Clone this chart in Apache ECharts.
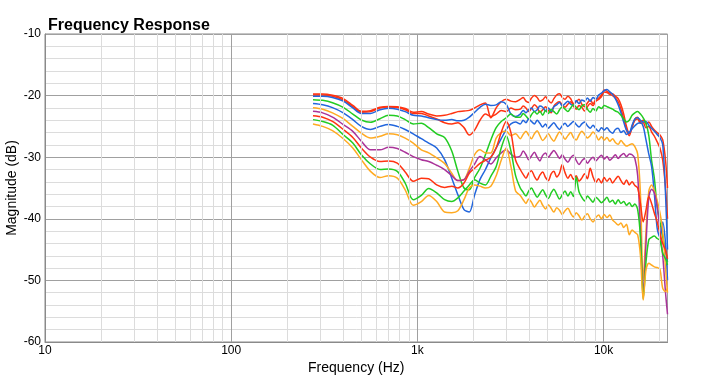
<!DOCTYPE html>
<html><head><meta charset="utf-8">
<script src="https://cdn.jsdelivr.net/npm/echarts@6/dist/echarts.min.js"></script>
<style>html,body{margin:0;padding:0;background:#fff}#c{width:702px;height:381px}</style>
</head><body><div id="c"></div>
<script>
// Frequencies (Hz)
const freqs = [
  275, 310, 350, 400, 450, 500, 560, 630, 700, 780,
  860, 950, 1050, 1150, 1270, 1400, 1530, 1650, 1780, 1900,
  2030, 2170, 2320, 2480, 2650, 2820, 3000, 3180, 3370,
  3570, 3700, 3830, 3960, 4100, 4250, 4400, 4550, 4710, 4880,
  5050, 5230, 5410, 5600, 5800, 6000, 6210, 6430, 6660, 6890,
  7130, 7380, 7640, 7910, 8190, 8480, 8780, 9090, 9410, 9740,
  10080, 10430, 10800, 11180, 11570, 11980, 12400, 12830, 13280, 13750,
  14230, 14730, 15250, 15780, 16330, 16900, 17500, 18110, 18750, 19400,
  20080, 20790, 21520, 22050
];
const red1 = [
  -19.74, -19.74, -19.96, -20.5, -21.6, -22.56, -22.45, -21.9, -21.75, -21.8,
  -22.1, -22.7, -22.6, -23.0, -23.3, -23.2, -22.9, -22.6, -22.5, -22.4,
  -22.0, -21.5, -21.2, -23.6, -22.0, -21.0, -20.6, -20.9, -21.0,
  -20.6, -20.3, -20.9, -21.1, -20.4, -20.0, -20.3, -20.9, -20.7, -20.2,
  -20.8, -21.2, -20.5, -19.9, -19.7, -20.3, -20.6, -20.1, -20.5, -21.3,
  -21.0, -20.6, -21.4, -21.8, -21.2, -20.7, -21.3, -20.6, -20.4, -19.9,
  -19.1, -19.3, -19.6, -19.7, -20.1, -20.5, -21.5, -23.0, -25.0, -26.2,
  -25.2, -23.8, -23.5, -24.2, -24.0, -24.6, -24.3, -25.0, -25.6, -26.0,
  -26.4, -27.2, -30.5, -35.0
];
const red2 = [
  -19.9, -19.9, -20.1, -20.7, -21.8, -22.7, -22.6, -22.0, -21.85, -21.95,
  -22.3, -22.9, -22.9, -23.3, -23.8, -24.4, -24.6, -24.4, -25.2, -26.4,
  -25.6, -24.0, -23.0, -23.4, -23.0, -22.4, -22.6, -22.0, -22.3,
  -22.2, -21.7, -22.0, -22.6, -22.1, -21.5, -21.9, -22.7, -22.3, -21.8,
  -22.4, -22.8, -21.7, -21.2, -21.0, -21.5, -21.9, -21.4, -21.0, -21.7,
  -22.2, -21.6, -21.9, -22.5, -21.8, -21.3, -21.6, -20.9, -20.6, -20.2,
  -19.4, -19.5, -19.8, -20.0, -20.4, -21.0, -22.2, -23.8, -25.6, -26.5,
  -25.0, -24.0, -23.8, -24.5, -24.4, -25.2, -25.0, -25.9, -26.6, -27.5,
  -28.5, -30.5, -35.0, -40.0
];
const blue1 = [
  -20.1, -20.1, -20.3, -20.9, -22.0, -22.9, -22.9, -22.3, -22.05, -22.2,
  -22.6, -23.2, -23.3, -23.6, -23.9, -24.0, -23.9, -24.1, -24.0, -23.5,
  -22.7, -21.9, -21.4, -21.6, -21.5, -21.0, -21.4, -23.0, -23.4,
  -23.0, -22.4, -22.8, -22.3, -22.0, -22.6, -22.3, -21.7, -21.9, -22.5,
  -22.0, -22.6, -21.8, -21.5, -21.1, -21.7, -21.3, -20.9, -21.4, -21.6,
  -20.8, -21.3, -20.7, -20.9, -20.4, -20.9, -20.3, -20.6, -19.9, -19.6,
  -19.2, -19.0, -19.4, -19.8, -20.5, -21.5, -22.8, -24.3, -25.6, -26.0,
  -24.8, -23.8, -23.6, -24.0, -24.3, -24.2, -24.8, -25.3, -25.8, -26.3,
  -26.8, -28.0, -36.0, -45.0
];
const green1 = [
  -20.66, -20.77, -21.15, -21.9, -23.0, -23.96, -24.34, -23.75, -23.2, -23.3,
  -23.9, -24.6, -24.5, -25.2, -26.2, -26.8, -29.0, -32.3, -35.0, -35.3,
  -33.3, -31.8, -29.6, -27.2, -25.2, -24.2, -23.6, -23.0, -23.5,
  -23.5, -22.9, -23.3, -23.8, -23.1, -22.6, -23.0, -22.5, -23.2, -22.4,
  -22.9, -22.2, -22.6, -23.0, -22.3, -21.8, -22.2, -22.6, -22.0, -21.5,
  -21.9, -22.3, -21.7, -21.5, -22.2, -22.7, -22.1, -22.5, -21.8, -22.1,
  -21.6, -21.8, -22.0, -22.2, -22.5, -22.7, -23.2, -23.8, -24.3, -24.0,
  -23.2, -22.8, -22.6, -23.0, -23.6, -24.5, -26.5, -30.5, -33.5, -38.0,
  -40.5, -43.0, -45.0, -47.0
];
const blue2 = [
  -21.3, -21.5, -21.96, -22.8, -23.9, -25.0, -25.5, -25.0, -24.7, -25.0,
  -25.5, -26.2, -27.0, -27.7, -28.5, -30.4, -33.4, -36.1, -38.5, -38.9,
  -36.1, -33.6, -32.0, -30.1, -28.5, -27.0, -25.5, -24.6, -24.3,
  -24.6, -24.0, -24.4, -23.8, -24.2, -24.6, -24.0, -24.5, -25.1, -24.6,
  -25.3, -24.8, -24.4, -25.0, -25.5, -24.9, -24.5, -25.0, -24.6, -24.2,
  -24.7, -25.1, -24.6, -24.3, -24.9, -25.3, -24.8, -25.4, -25.8, -25.2,
  -25.6, -25.2, -25.8, -26.1, -25.5, -25.3, -26.0, -25.7, -26.3, -26.0,
  -25.4, -24.9, -24.5, -24.4, -25.0, -27.2, -29.5, -31.5, -36.0, -41.5,
  -43.0, -40.5, -44.0, -50.0
];
const orange1 = [
  -21.96, -22.2, -22.8, -23.75, -25.0, -26.1, -26.9, -26.6, -26.2, -26.35,
  -26.9, -27.7, -28.8, -29.3, -30.1, -31.0, -32.6, -33.8, -33.65, -31.8,
  -29.6, -28.8, -29.3, -29.3, -26.9, -26.0, -25.8, -26.5, -26.2,
  -27.0, -26.3, -25.8, -26.4, -27.0, -26.2, -25.7, -26.5, -27.3, -26.8,
  -26.2, -26.9, -27.4, -26.6, -25.9, -26.4, -27.1, -26.5, -26.0, -26.8,
  -27.2, -26.4, -25.8, -26.3, -26.9, -26.5, -25.9, -26.4, -27.2, -26.7,
  -27.2, -26.8, -27.4, -27.0, -27.6, -27.9, -27.3, -27.8, -28.2, -28.0,
  -27.8, -28.3, -29.5, -36.0, -50.0, -42.0, -35.5, -34.5, -35.5, -37.0,
  -39.0, -42.0, -48.0, -52.0
];
const purple1 = [
  -22.56, -22.8, -23.5, -24.7, -25.8, -27.4, -28.8, -28.8, -28.4, -28.6,
  -29.2, -29.9, -30.4, -30.7, -31.3, -32.0, -33.0, -33.8, -33.65, -32.3,
  -31.1, -29.9, -30.4, -31.1, -30.1, -29.3, -28.8, -29.5, -30.0,
  -29.8, -29.0, -29.6, -30.4, -29.8, -29.2, -30.0, -30.6, -29.7, -29.3,
  -30.0, -29.4, -28.9, -29.5, -30.2, -29.6, -30.3, -30.8, -30.1, -29.7,
  -30.5, -31.2, -30.6, -30.2, -31.0, -30.4, -30.0, -30.6, -30.1, -29.7,
  -30.3, -29.9, -30.5, -30.1, -29.6, -30.2, -29.7, -29.4, -29.9, -29.5,
  -29.6, -30.2, -33.0, -42.0, -52.0, -44.0, -36.5, -35.2, -35.8, -38.0,
  -42.0, -46.0, -52.0, -55.5
];
const red3 = [
  -23.26, -23.5, -24.2, -25.5, -26.8, -28.5, -30.0, -30.7, -30.6, -30.95,
  -32.4, -33.9, -33.4, -33.5, -34.5, -34.9, -34.7, -35.0, -34.2, -32.6,
  -31.8, -31.0, -30.5, -30.0, -28.5, -26.0, -24.2, -26.0, -30.5,
  -32.0, -32.8, -33.4, -32.6, -32.2, -33.1, -33.7, -32.9, -32.4, -33.3,
  -33.8, -32.7, -32.3, -33.2, -32.6, -31.2, -32.5, -33.4, -32.8, -33.6,
  -33.0, -33.9, -33.4, -32.7, -33.5, -31.8, -33.2, -34.1, -33.5, -34.2,
  -33.3, -33.9, -33.4, -34.2, -33.6, -33.1, -33.8, -34.4, -33.7, -34.5,
  -34.0, -34.6, -35.0, -37.5, -40.5, -38.6, -36.4, -37.5, -39.1, -40.5,
  -42.4, -44.0, -45.1, -46.5
];
const green2 = [
  -23.9, -24.2, -24.8, -26.35, -27.7, -29.6, -31.1, -32.0, -31.9, -32.3,
  -34.2, -36.9, -36.2, -35.1, -35.8, -36.9, -37.2, -36.6, -35.5, -34.5,
  -33.65, -34.2, -34.5, -33.1, -31.5, -28.5, -26.5, -29.0, -33.0,
  -35.0, -35.7, -36.3, -35.5, -35.0, -35.8, -36.5, -35.9, -35.3, -36.1,
  -36.7, -35.8, -35.2, -36.0, -36.8, -36.1, -35.5, -36.3, -35.6, -36.4,
  -33.2, -35.6, -36.5, -37.1, -36.3, -36.8, -37.3, -36.5, -36.9, -37.4,
  -37.0, -36.5, -37.3, -37.0, -37.6, -36.9, -37.5, -37.2, -37.8, -37.4,
  -38.0, -37.6, -38.5, -43.0, -53.0, -47.0, -43.4, -43.0, -42.8, -43.2,
  -43.5, -45.6, -46.5, -47.5
];
const orange2 = [
  -24.6, -25.0, -25.7, -27.0, -28.5, -30.4, -32.3, -33.3, -33.0, -33.4,
  -35.3, -37.8, -37.2, -36.2, -37.2, -38.9, -39.0, -38.7, -36.9, -35.0,
  -34.5, -34.7, -35.0, -34.7, -33.0, -30.5, -28.5, -31.5, -35.5,
  -36.2, -36.9, -37.5, -36.8, -37.3, -38.1, -37.5, -37.0, -37.8, -38.4,
  -37.7, -38.3, -38.9, -38.2, -38.6, -39.3, -38.7, -38.3, -39.1, -39.7,
  -39.0, -39.5, -40.2, -39.6, -39.2, -40.0, -40.5, -39.8, -39.4, -40.0,
  -39.3, -39.8, -39.4, -40.2, -40.6, -41.0, -40.7, -41.4, -40.9, -42.6,
  -41.8, -42.2, -42.6, -46.0, -53.2, -48.3, -47.2, -47.5, -47.8, -47.9,
  -48.2, -51.3, -51.8, -51.3
];
const xTickValues = [10, 100, 1000, 10000];

const RED = '#ff3311', BLUE = '#2266dd', GREEN = '#22cc22', ORANGE = '#ffaa22', PURPLE = '#aa3399';
const curves = [
  { name: 'S1', color: RED, vals: red1 },
  { name: 'S2', color: RED, vals: red2 },
  { name: 'S3', color: BLUE, vals: blue1 },
  { name: 'S4', color: GREEN, vals: green1 },
  { name: 'S5', color: BLUE, vals: blue2 },
  { name: 'S6', color: ORANGE, vals: orange1 },
  { name: 'S7', color: PURPLE, vals: purple1 },
  { name: 'S8', color: RED, vals: red3 },
  { name: 'S9', color: GREEN, vals: green2 },
  { name: 'S10', color: ORANGE, vals: orange2 }
];

// minor vertical grid lines at 2..9 x decade
const minorX = [];
for (let d = 10; d <= 10000; d *= 10) {
  for (let k = 2; k <= 9; k++) { if (d * k < 22050) minorX.push(d * k); }
}

const FONT = 'Liberation Sans, Arial, Helvetica, sans-serif';
const chart = echarts.init(document.getElementById('c'), null, { renderer: 'canvas' });
const series = [{
  type: 'line', data: [], z: 1, silent: true,
  markLine: {
    silent: true, symbol: 'none', animation: false,
    label: { show: false },
    lineStyle: { color: '#dcdcdc', width: 1, type: 'solid' },
    data: minorX.map(v => ({ xAxis: v }))
  }
}].concat(curves.map(c => ({
  name: c.name, type: 'line', showSymbol: false, smooth: 0.3, z: 3,
  lineStyle: { color: c.color, width: 1.5 },
  itemStyle: { color: c.color },
  data: freqs.map((f, i) => [f, c.vals[i]])
})));

chart.setOption({
  animation: false,
  backgroundColor: '#fff',
  textStyle: { fontFamily: FONT },
  title: {
    text: 'Frequency Response', left: 43, top: 13,
    textStyle: { fontFamily: FONT, fontSize: 16, fontWeight: 'bold', color: '#000' }
  },
  grid: { left: 45, right: 34.5, top: 34, bottom: 39, show: true, borderColor: '#8a8a8a', borderWidth: 1, outerBoundsMode: 'none', containLabel: false },
  xAxis: {
    type: 'log', logBase: 10, min: 10, max: 22050,
    name: 'Frequency (Hz)', nameLocation: 'middle', nameGap: 19, nameMoveOverlap: false,
    nameTextStyle: { fontFamily: FONT, fontSize: 14, color: '#000' },
    axisLine: { show: true, lineStyle: { color: '#8a8a8a', width: 1 } },
    axisTick: { show: false },
    axisLabel: {
      fontFamily: FONT, fontSize: 12, color: '#000', margin: 3,
      formatter: v => {
        const r = Math.round(v);
        if (xTickValues.indexOf(r) < 0) return '';
        return r >= 1000 ? (r / 1000) + 'k' : String(r);
      }
    },
    splitLine: { show: true, lineStyle: { color: '#a0a0a0', width: 1 } }
  },
  yAxis: {
    type: 'value', min: -60, max: -10, interval: 10,
    name: 'Magnitude (dB)', nameLocation: 'middle', nameGap: 26, nameMoveOverlap: false,
    nameTextStyle: { fontFamily: FONT, fontSize: 14, color: '#000' },
    axisLine: { show: true, lineStyle: { color: '#8a8a8a', width: 1 } },
    axisTick: { show: false },
    axisLabel: { fontFamily: FONT, fontSize: 12, color: '#000', margin: 4 },
    splitLine: { show: true, lineStyle: { color: '#a0a0a0', width: 1 } },
    minorTick: { show: false, splitNumber: 5 },
    minorSplitLine: { show: true, lineStyle: { color: '#dcdcdc', width: 1 } }
  },
  series: series
});
</script>
</body></html>
